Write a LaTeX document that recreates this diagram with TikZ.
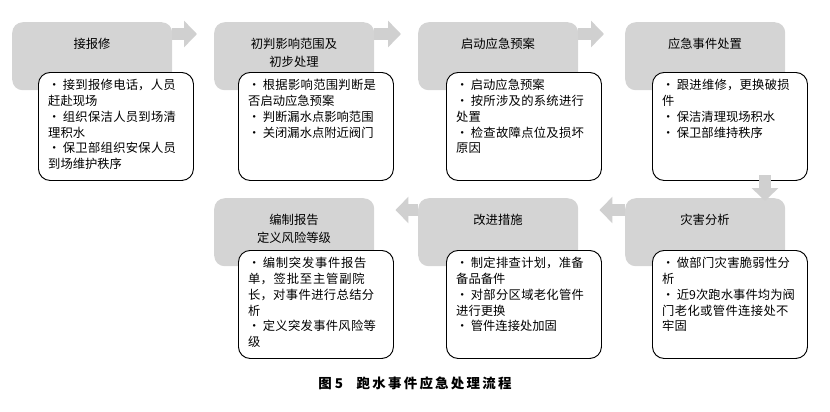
\documentclass[tikz,border=0pt]{standalone}
\usepackage{fontspec}
\setmainfont{Noto Sans CJK SC}
\XeTeXlinebreaklocale "zh"
\XeTeXlinebreakskip=0pt plus 1pt
\usepackage{tikz}
\usetikzlibrary{positioning,arrows.meta}
\definecolor{stepgray}{HTML}{D4D4D4}
\definecolor{arrowgray}{HTML}{D0D0D0}
\newcommand{\itm}{·\nobreak\hskip2pt\nobreak}

\begin{document}
\begin{tikzpicture}[
      x=0.03cm,y=-0.03cm,
      head/.style={fill=stepgray,rounded corners=9pt,anchor=north west,minimum width=160*0.03cm,minimum height=68*0.03cm,inner sep=0pt},
      headtxt/.style={font=\fontsize{10.5}{15}\selectfont,align=center,anchor=north},
      detail/.style={draw=black,fill=white,rounded corners=10pt,anchor=north west,thick,minimum width=155*0.03cm,minimum height=108*0.03cm,inner sep=0pt},
      detailtxt/.style={font=\fontsize{10.5}{13.5}\selectfont,align=left,anchor=north west,text width=134*0.03cm,inner sep=0pt},
      blk/.style={draw=arrowgray,line width=12*0.03cm,-{Triangle[length=13*0.03cm,width=26*0.03cm]}}
    ]
    \useasboundingbox (0,0) rectangle (830,411);
    % top row
    \node[head] (receive) at (12,22) {};
    \node[head] (judge) at (214,22) {};
    \node[head] (plan) at (418,22) {};
    \node[head] (handle) at (625,22) {};
    \node[detail] (receiveD) at (38,72) {};
    \node[detail] (judgeD) at (238,72) {};
    \node[detail] (planD) at (446,72) {};
    \node[detail] (handleD) at (652,72) {};
    \node[headtxt] at (92,34) {接报修};
    \node[headtxt] at (294,34) {初判影响范围及\\初步处理};
    \node[headtxt] at (498,34) {启动应急预案};
    \node[headtxt] at (705,34) {应急事件处置};
    \node[detailtxt] (receiveT) at (48,79) {\itm 接到报修电话，人员赶赴现场\\\itm 组织保洁人员到场清理积水\\\itm 保卫部组织安保人员到场维护秩序};
    \node[detailtxt] (judgeT) at (248,79) {\itm 根据影响范围判断是否启动应急预案\\\itm 判断漏水点影响范围\\\itm 关闭漏水点附近阀门};
    \node[detailtxt] (planT) at (456,79) {\itm 启动应急预案\\\itm 按所涉及的系统进行处置\\\itm 检查故障点位及损坏原因};
    \node[detailtxt] (handleT) at (662,79) {\itm 跟进维修，更换破损件\\\itm 保洁清理现场积水\\\itm 保卫部维持秩序};
    % bottom row
    \node[head] (analyse) at (625,198) {};
    \node[head] (improve) at (418,198) {};
    \node[head] (report) at (214,198) {};
    \node[detail] (analyseD) at (652,250) {};
    \node[detail] (improveD) at (446,250) {};
    \node[detail] (reportD) at (238,250) {};
    \node[headtxt] at (705,210) {灾害分析};
    \node[headtxt] at (498,210) {改进措施};
    \node[headtxt] at (294,210) {编制报告\\定义风险等级};
    \node[detailtxt] (analyseT) at (662,257) {\itm 做部门灾害脆弱性分析\\\itm 近9次跑水事件均为阀门老化或管件连接处不牢固};
    \node[detailtxt] (improveT) at (456,257) {\itm 制定排查计划，准备备品备件\\\itm 对部分区域老化管件进行更换\\\itm 管件连接处加固};
    \node[detailtxt] (reportT) at (248,257) {\itm 编制突发事件报告单，签批至主管副院长，对事件进行总结分析\\\itm 定义突发事件风险等级};
    % arrows
    \draw[blk,shorten >=17*0.03cm] ([yshift=-12*0.03cm]receive.north east) -- ([yshift=-12*0.03cm]judge.north west);
    \draw[blk,shorten >=17*0.03cm] ([yshift=-12*0.03cm]judge.north east) -- ([yshift=-12*0.03cm]plan.north west);
    \draw[blk,shorten >=21*0.03cm] ([yshift=-12*0.03cm]plan.north east) -- ([yshift=-12*0.03cm]handle.north west);
    \coordinate (downTop) at (765,175);
    \draw[blk] (downTop) -- (765,201);
    \draw[blk,shorten >=21*0.03cm] ([yshift=-12*0.03cm]analyse.north west) -- ([yshift=-12*0.03cm]improve.north east);
    \draw[blk,shorten >=21*0.03cm] ([yshift=-12*0.03cm]improve.north west) -- ([yshift=-12*0.03cm]report.north east);
    % caption
    \node[font=\fontsize{11.5}{14}\selectfont\bfseries] (caption) at (415,383) {图 5\quad 跑\,水\,事\,件\,应\,急\,处\,理\,流\,程};
  \end{tikzpicture}
\end{document}
